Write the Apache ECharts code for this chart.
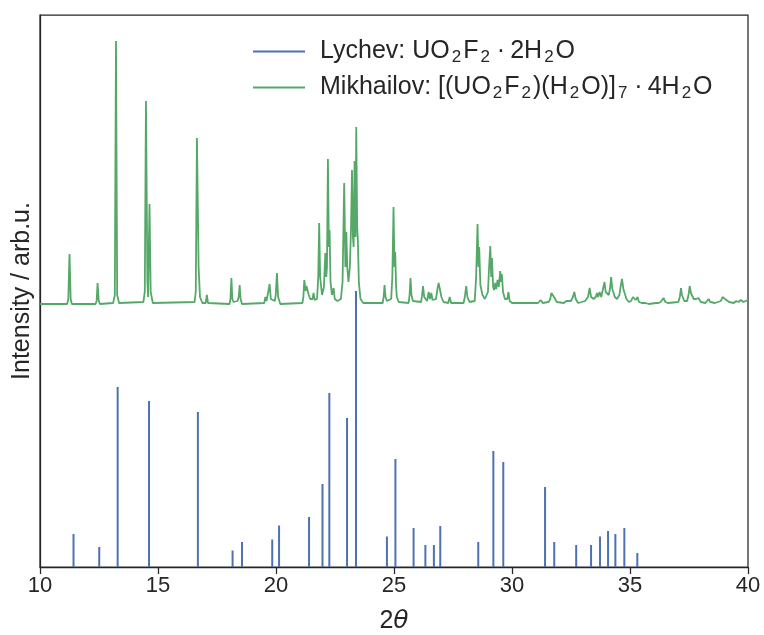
<!DOCTYPE html>
<html>
<head>
<meta charset="utf-8">
<script src="https://cdn.jsdelivr.net/npm/echarts@6/dist/echarts.min.js"></script>
<style>
html,body{margin:0;padding:0;background:#fff;}
#c{width:764px;height:635px;}
</style>
</head>
<body>
<div id="c"></div>
<script>
// Lychev stick pattern: 2θ positions and intensities
const lychevPos = [11.42, 12.51, 13.29, 14.62, 16.69, 18.16, 18.56, 19.84, 20.13, 21.40, 21.97, 22.26, 23.01, 23.39,
  24.70, 25.06, 25.83, 26.33, 26.69, 26.96, 28.57, 29.21, 29.63, 31.40, 31.79, 32.72, 33.35, 33.73, 34.07, 34.38, 34.76, 35.31];
const lychevInt = [33, 20, 180, 166, 155, 16.5, 25, 27.5, 41.5, 50, 83, 174, 149, 276,
  30.5, 108, 39, 22, 22, 41, 25, 116, 105, 80, 25, 22, 22, 30.5, 36, 33, 39, 14];

// Mikhailov calculated profile (2θ, intensity incl. vertical offset)
const mikhailovX = [10.0,11.15,11.2,11.25,11.3,11.35,
 12.35,12.4,12.44,12.49,12.54,
 13.1,13.17,13.22,13.27,13.35,
 14.38,14.44,14.49,14.55,14.58,14.64,14.69,14.78,
 16.55,16.6,16.65,16.69,16.72,16.78,16.88,
 17.02,17.07,17.12,
 18.03,18.07,18.11,18.15,18.2,18.28,18.37,18.42,18.46,18.5,18.56,
 19.5,19.55,19.6,19.68,19.73,19.78,19.95,19.99,20.04,20.09,20.18,
 21.12,21.16,21.2,21.25,21.29,21.34,21.39,21.45,21.5,21.55,21.59,21.64,21.74,21.79,21.83,21.87,21.95,22.03,22.09,22.13,22.16,22.2,22.24,22.27,22.31,22.37,22.44,22.49,22.6,22.75,22.82,22.89,22.94,22.98,23.02,23.07,23.13,23.18,23.22,23.26,23.29,23.33,23.37,23.4,23.44,23.47,23.51,23.58,23.7,
 24.52,24.56,24.6,24.64,24.7,24.88,24.93,24.98,25.02,25.05,25.09,25.12,25.2,
 25.62,25.66,25.7,25.74,25.8,
 26.15,26.19,26.23,26.28,26.4,26.47,26.52,26.58,26.63,26.78,26.84,26.89,26.96,27.01,27.1,
 27.3,27.36,27.42,
 27.95,28.0,28.06,28.11,28.2,
 28.42,28.48,28.54,28.58,28.61,28.66,28.7,28.75,28.85,
 28.98,29.03,29.08,29.12,29.15,29.2,29.24,29.29,29.33,29.39,29.44,29.5,29.54,29.57,29.62,29.7,29.8,29.85,29.9,30.0,
 31.1,31.17,31.22,31.3,31.55,31.62,31.67,31.73,31.78,31.9,
 32.2,32.3,32.38,32.5,32.58,32.64,32.7,32.8,
 33.1,33.22,33.29,33.35,33.4,33.46,33.55,33.6,33.65,33.71,33.78,33.86,33.92,33.97,34.02,34.1,34.15,34.2,34.25,34.3,34.36,34.45,34.55,34.6,34.66,34.72,34.77,34.85,34.95,
 35.05,35.12,35.17,35.24,35.32,35.38,35.5,35.65,35.72,35.8,36.1,36.21,36.3,36.36,36.42,36.5,36.6,
 37.05,37.11,37.16,37.2,37.24,37.3,37.42,37.48,37.53,37.58,37.63,37.7,37.8,37.9,38.0,38.2,38.28,38.33,38.4,38.6,38.85,38.92,38.97,39.03,39.1,39.2,39.4,39.5,39.6,39.7,39.8,39.9,40.0];
const mikhailovY = [263,263,268,313,268,263,
 263,266,284,266,263,
 264,272,526,272,264,
 265,275,466,285,270,363,275,264,
 265,275,429,357,300,270,264,
 264,272,264,
 263,268,289,268,265,266,266,270,282,268,263,
 264,270,266,268,283,268,266,272,294,270,263,
 264,270,287,276,281,283,272,268,266,268,274,267,268,290,344,290,272,280,314,290,300,408,320,337,285,272,279,268,266,268,285,384,300,335,300,285,300,340,397,330,320,406,330,440,340,326,285,268,264,
 264,270,282,270,266,268,290,360,300,315,280,270,265,
 264,272,289,272,266,
 265,272,281,270,266,275,268,274,267,268,278,284,283,270,265,
 264,270,264,
 264,270,281,270,265,
 266,290,343,300,320,282,284,272,268,
 275,300,321,290,309,280,277,284,278,287,280,296,285,293,275,268,268,275,266,264,
 264,266,267,264,265,268,274,276,270,265,
 264,266,264,266,270,275,268,264,
 266,270,279,270,272,268,270,274,270,275,270,272,285,275,274,272,278,290,278,277,270,268,272,280,288,278,277,268,265,
 266,270,270,267,270,265,264,264,265,263,264,264,265,266,269,265,264,
 265,270,279,272,272,266,266,272,281,274,274,268,268,269,265,264,266,268,265,264,266,270,271,268,268,265,264,266,265,267,265,266,267];

const xTicks = [10, 15, 20, 25, 30, 35, 40];

const blueData = lychevPos.map((x, i) => [x, lychevInt[i]]);
const greenData = mikhailovX.map((x, i) => [x, mikhailovY[i]]);

const FONT = '"Liberation Sans", Arial, sans-serif';
const TXT = '#262626';

const legendRich = {
  t: {fontSize: 25, fontFamily: FONT, color: TXT, lineHeight: 29},
  s: {fontSize: 17, fontFamily: FONT, color: TXT, lineHeight: 17, verticalAlign: 'bottom', padding: [0, 2, 0, 2]},
  d: {fontSize: 25, fontFamily: FONT, color: TXT, lineHeight: 29, padding: [0, 5, 0, 5]}
};

const chart = echarts.init(document.getElementById('c'), null, {renderer: 'canvas'});
chart.setOption({
  animation: false,
  backgroundColor: '#ffffff',
  grid: {left: 40, right: 16, top: 15, bottom: 68, containLabel: false, outerBoundsMode: 'none',
    show: true, borderColor: TXT, borderWidth: 1.25, backgroundColor: 'transparent'},
  legend: {
    orient: 'vertical',
    left: 248, top: 34,
    itemWidth: 52, itemHeight: 2,
    itemGap: 9,
    icon: 'rect',
    data: ['Lychev', 'Mikhailov'],
    textStyle: {padding: [0, 0, 0, 10], rich: legendRich},
    formatter: function (name) {
      if (name === 'Lychev') {
        return '{t|Lychev: UO}{s|2}{t|F}{s|2}{d|·}{t|2H}{s|2}{t|O}';
      }
      return '{t|Mikhailov: [(UO}{s|2}{t|F}{s|2}{t|)(H}{s|2}{t|O)]}{s|7}{d|·}{t|4H}{s|2}{t|O}';
    }
  },
  xAxis: {
    type: 'value', min: 10, max: 40, interval: 5,
    name: '{a|2}{b|θ}',
    nameLocation: 'middle', nameGap: 42,
    nameTextStyle: {rich: {
      a: {fontSize: 25, fontFamily: FONT, color: TXT},
      b: {fontSize: 25, fontFamily: '"DejaVu Sans", sans-serif', fontStyle: 'italic', color: TXT}
    }},
    axisLine: {show: true, lineStyle: {color: TXT, width: 1.25}},
    axisTick: {show: true, inside: false, length: 7, lineStyle: {color: TXT, width: 1.25}},
    axisLabel: {fontSize: 22, fontFamily: FONT, color: TXT, margin: 8,
      formatter: function (v) { return xTicks.indexOf(v) >= 0 ? String(v) : ''; }},
    splitLine: {show: false}
  },
  yAxis: {
    type: 'value', min: 0, max: 552,
    name: 'Intensity / arb.u.',
    nameLocation: 'middle', nameGap: 5,
    nameTextStyle: {fontSize: 25, fontFamily: FONT, color: TXT},
    axisLine: {show: true, lineStyle: {color: TXT, width: 1.25}},
    axisTick: {show: false},
    axisLabel: {show: false},
    splitLine: {show: false}
  },
  series: [
    {
      name: 'Lychev', type: 'bar', data: blueData, barWidth: 2,
      itemStyle: {color: '#4c72b0'}, z: 2, silent: true
    },
    {
      name: 'Mikhailov', type: 'line', data: greenData, showSymbol: false, symbol: 'none',
      lineStyle: {color: '#55a868', width: 1.8}, itemStyle: {color: '#55a868'}, z: 3, silent: true
    }
  ]
});
</script>
</body>
</html>
